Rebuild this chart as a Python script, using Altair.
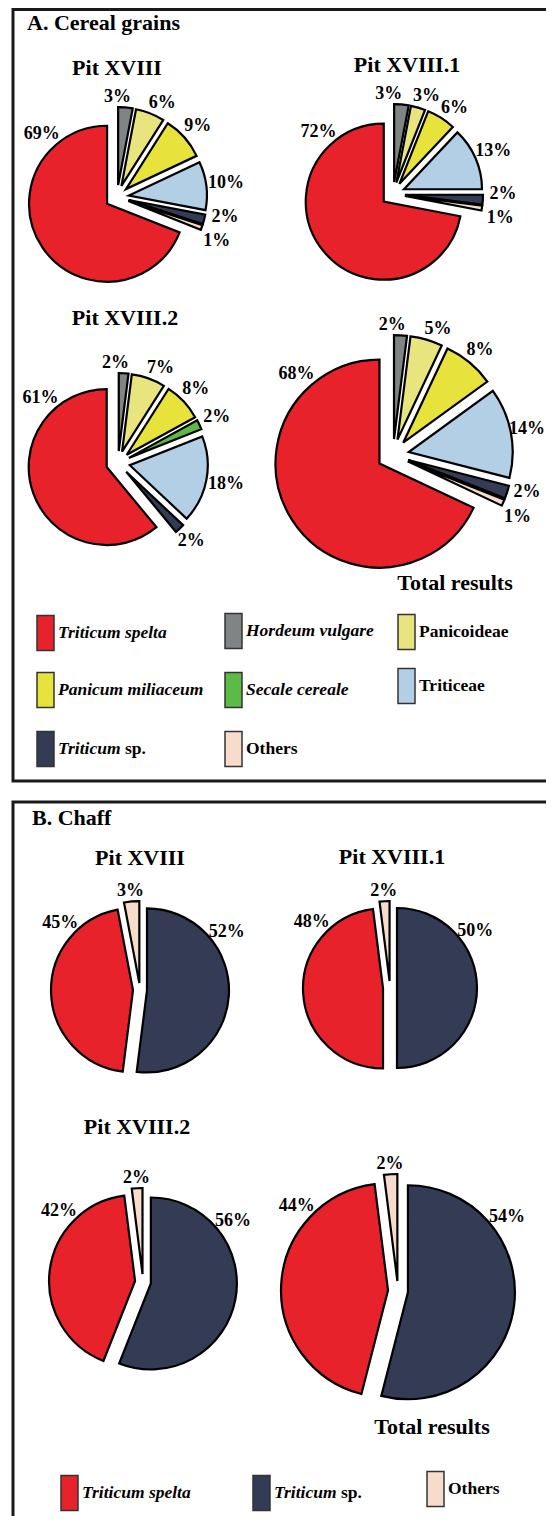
import math
import altair as alt
import pandas as pd

# ---------------- data ----------------
CATEGORIES = ["Triticum spelta", "Hordeum vulgare", "Panicoideae", "Panicum miliaceum",
              "Secale cereale", "Triticeae", "Triticum sp.", "Others"]
COLORS = ["#E8222B", "#808485", "#E9E57E", "#E8E23C", "#5DBA47", "#B3CFE6", "#343B54", "#F8DCCB"]

# clockwise order from 12 o'clock
GRAIN_ORDER = ["Hordeum vulgare", "Panicoideae", "Panicum miliaceum", "Secale cereale",
               "Triticeae", "Triticum sp.", "Others", "Triticum spelta"]
GRAIN_XVIII = [3, 6, 9, 0, 10, 2, 1, 69]
GRAIN_XVIII_1 = [3, 3, 6, 0, 13, 2, 1, 72]
GRAIN_XVIII_2 = [2, 7, 8, 2, 18, 2, 0, 61]
GRAIN_TOTAL = [2, 5, 8, 0, 14, 2, 1, 68]

CHAFF_ORDER = ["Triticum sp.", "Triticum spelta", "Others"]
CHAFF_XVIII = [52, 45, 3]
CHAFF_XVIII_1 = [50, 48, 2]
CHAFF_XVIII_2 = [56, 42, 2]
CHAFF_TOTAL = [54, 44, 2]

PIE_TITLES = ["Pit XVIII", "Pit XVIII.1", "Pit XVIII.2", "Total results"]
PANEL_TITLES = ["A. Cereal grains", "B. Chaff"]

# ---------------- layout (page pixel frame) ----------------
FONT = "Liberation Serif"
# pie id -> (cx, cy, radius, explode, title_x, title_y)
PIE_LAYOUT = {
    "A0": (117, 197, 78, 12, 117, 68),
    "A1": (393, 194, 78, 12, 407, 65),
    "A2": (118, 463, 78, 12, 125, 318),
    "A3": (393, 455, 104, 16, 455, 583),
    "B0": (140, 990, 82, 7, 140, 858),
    "B1": (390, 988, 80, 7, 392, 857),
    "B2": (143, 1282, 86, 8, 137, 1127),
    "B3": (398, 1291, 107, 10, 432, 1427),
}
PANEL_TITLE_POS = [(27, 23), (32, 818)]
PANEL_BOX = [(13, 600, 9.5, 781), (13, 600, 802, 1700)]
LEGEND_A = [("Triticum spelta", 37, 633), ("Panicum miliaceum", 37, 690), ("Triticum sp.", 37, 749),
            ("Hordeum vulgare", 225, 631), ("Secale cereale", 225, 690), ("Others", 225, 749),
            ("Panicoideae", 398, 632), ("Triticeae", 398, 686)]
LEGEND_B = [("Triticum spelta", 61, 1493), ("Triticum sp.", 253, 1493), ("Others", 427, 1489)]
BOX_W, BOX_H = 17, 35
ITALIC = {"Triticum spelta", "Hordeum vulgare", "Panicum miliaceum", "Secale cereale"}

# ---------------- tables built from the arrays ----------------
rows = []
pie_sets = [("A0", GRAIN_ORDER, GRAIN_XVIII), ("A1", GRAIN_ORDER, GRAIN_XVIII_1),
            ("A2", GRAIN_ORDER, GRAIN_XVIII_2), ("A3", GRAIN_ORDER, GRAIN_TOTAL),
            ("B0", CHAFF_ORDER, CHAFF_XVIII), ("B1", CHAFF_ORDER, CHAFF_XVIII_1),
            ("B2", CHAFF_ORDER, CHAFF_XVIII_2), ("B3", CHAFF_ORDER, CHAFF_TOTAL)]
for pid, order, vals in pie_sets:
    cx, cy, r, e, _, _ = PIE_LAYOUT[pid]
    for i, (cat, v) in enumerate(zip(order, vals)):
        rows.append(dict(pie=pid, category=cat, value=v, order=i, cx=cx, cy=cy, r=r, e=e))
pies = pd.DataFrame(rows)

titles = pd.DataFrame([dict(text=PIE_TITLES[int(pid[1])], x=v[4], y=v[5]) for pid, v in PIE_LAYOUT.items()])
panel_titles = pd.DataFrame([dict(text=t, x=p[0], y=p[1]) for t, p in zip(PANEL_TITLES, PANEL_TITLE_POS)])
boxes = pd.DataFrame([dict(x=b[0], x2=b[1], y=b[2], y2=b[3]) for b in PANEL_BOX])

leg_rows, leg_text = [], []
for cat, bx, by in LEGEND_A + LEGEND_B:
    leg_rows.append(dict(category=cat, x=bx, y=by))
    tx = bx + BOX_W + 4
    if cat == "Triticum sp.":
        leg_text.append(dict(text="Triticum", x=tx, y=by, style="italic"))
        leg_text.append(dict(text="sp.", x=tx + 67, y=by, style="normal"))
    else:
        leg_text.append(dict(text=cat, x=tx, y=by, style="italic" if cat in ITALIC else "normal"))
leg_rows = pd.DataFrame(leg_rows)
leg_text = pd.DataFrame(leg_text)

# ---------------- scales ----------------
W, H = 538, 1508
xs = alt.Scale(domain=[8, 8 + W], nice=False, zero=False)
ys = alt.Scale(domain=[8, 8 + H], nice=False, zero=False, reverse=True)
color = alt.Color("category:N", scale=alt.Scale(domain=CATEGORIES, range=COLORS), legend=None)


def wf(op, field, name):
    return alt.WindowFieldDef(op=op, field=field, **{"as": name})


base = (alt.Chart(pies)
        .transform_filter("datum.value > 0")
        .transform_window(cum="sum(value)", groupby=["pie"], sort=[alt.SortField("order")],
                          frame=[None, 0])
        .transform_joinaggregate(tot="sum(value)", groupby=["pie"])
        .transform_calculate(t0="(datum.cum - datum.value) / datum.tot",
                             t1="datum.cum / datum.tot",
                             frac="datum.value / datum.tot")
        .transform_calculate(mid="(datum.t0 + datum.t1) * PI")
        .transform_calculate(px="datum.cx + datum.e * sin(datum.mid)",
                             py="datum.cy - datum.e * cos(datum.mid)"))

arcs = base.mark_arc(stroke="black", strokeWidth=2.2, strokeJoin="miter").encode(
    x=alt.X("px:Q", scale=xs, axis=None),
    y=alt.Y("py:Q", scale=ys, axis=None),
    theta=alt.Theta("t0:Q", scale=alt.Scale(domain=[0, 1], range=[0, 2 * math.pi]), stack=None),
    theta2="t1:Q",
    radius=alt.Radius("r:Q", scale=None),
    color=color,
)

labels = (base
          .transform_window(window=[wf("lag", "mid", "prev_mid"), wf("lead", "mid", "next_mid"),
                                    wf("lag", "frac", "prev_frac"), wf("lead", "frac", "next_frac")],
                            groupby=["pie"], sort=[alt.SortField("order")])
          .transform_calculate(gap="(22 + 26 * pow(cos(datum.mid), 2)) / (datum.r + datum.e + 14)")
          .transform_calculate(
              pf="(datum.prev_mid != null && datum.prev_frac < 0.3) ? max(0, datum.gap - (datum.mid - datum.prev_mid)) / 2 : 0",
              pb="(datum.next_mid != null && datum.next_frac < 0.3) ? max(0, datum.gap - (datum.next_mid - datum.mid)) / 2 : 0")
          .transform_calculate(
              la="datum.frac >= 0.3 ? (datum.mid < PI ? 56 * PI / 180 : 310 * PI / 180) : datum.mid + datum.pf - datum.pb")
          .transform_calculate(
              lr="datum.frac >= 0.3 ? datum.r + datum.e * cos(datum.la - datum.mid) + 17 : datum.r + datum.e + 10 + 10 * abs(sin(datum.la))")
          .transform_calculate(lx=f"min({8 + W - 19}, datum.cx + datum.lr * sin(datum.la))",
                               ly="datum.cy - datum.lr * cos(datum.la)",
                               lab="datum.value + '%'")
          .mark_text(font=FONT, fontSize=18, fontWeight="bold", color="black")
          .encode(x=alt.X("lx:Q", scale=xs, axis=None), y=alt.Y("ly:Q", scale=ys, axis=None),
                  text="lab:N"))

title_text = alt.Chart(titles).mark_text(font=FONT, fontSize=22, fontWeight="bold", color="black").encode(
    x=alt.X("x:Q", scale=xs, axis=None), y=alt.Y("y:Q", scale=ys, axis=None), text="text:N")

panel_text = alt.Chart(panel_titles).mark_text(font=FONT, fontSize=22, fontWeight="bold", color="black",
                                               align="left").encode(
    x=alt.X("x:Q", scale=xs, axis=None), y=alt.Y("y:Q", scale=ys, axis=None), text="text:N")

panel_boxes = alt.Chart(boxes).mark_rect(fill=None, fillOpacity=0, stroke="#1a1a1a", strokeWidth=3).encode(
    x=alt.X("x:Q", scale=xs, axis=None), x2="x2:Q",
    y=alt.Y("y:Q", scale=ys, axis=None), y2="y2:Q")

leg_boxes = (alt.Chart(leg_rows)
             .transform_calculate(x2=f"datum.x + {BOX_W}", y0=f"datum.y - {BOX_H / 2}",
                                  y1=f"datum.y + {BOX_H / 2}")
             .mark_rect(stroke="#333333", strokeWidth=1.5)
             .encode(x=alt.X("x:Q", scale=xs, axis=None), x2="x2:Q",
                     y=alt.Y("y0:Q", scale=ys, axis=None), y2="y1:Q", color=color))

leg_it = alt.Chart(leg_text).transform_filter("datum.style == 'italic'").mark_text(
    font=FONT, fontSize=17.5, fontWeight="bold", fontStyle="italic", align="left", color="black").encode(
    x=alt.X("x:Q", scale=xs, axis=None), y=alt.Y("y:Q", scale=ys, axis=None), text="text:N")
leg_no = alt.Chart(leg_text).transform_filter("datum.style == 'normal'").mark_text(
    font=FONT, fontSize=17.5, fontWeight="bold", align="left", color="black").encode(
    x=alt.X("x:Q", scale=xs, axis=None), y=alt.Y("y:Q", scale=ys, axis=None), text="text:N")

chart = alt.layer(panel_boxes, arcs, labels, title_text, panel_text, leg_boxes, leg_it, leg_no).properties(
    width=W, height=H, padding=0, autosize=alt.AutoSizeParams(type="none"),
    background="white").configure_view(stroke=None)

chart.save("out.html", embed_options={"renderer": "svg", "actions": False})
